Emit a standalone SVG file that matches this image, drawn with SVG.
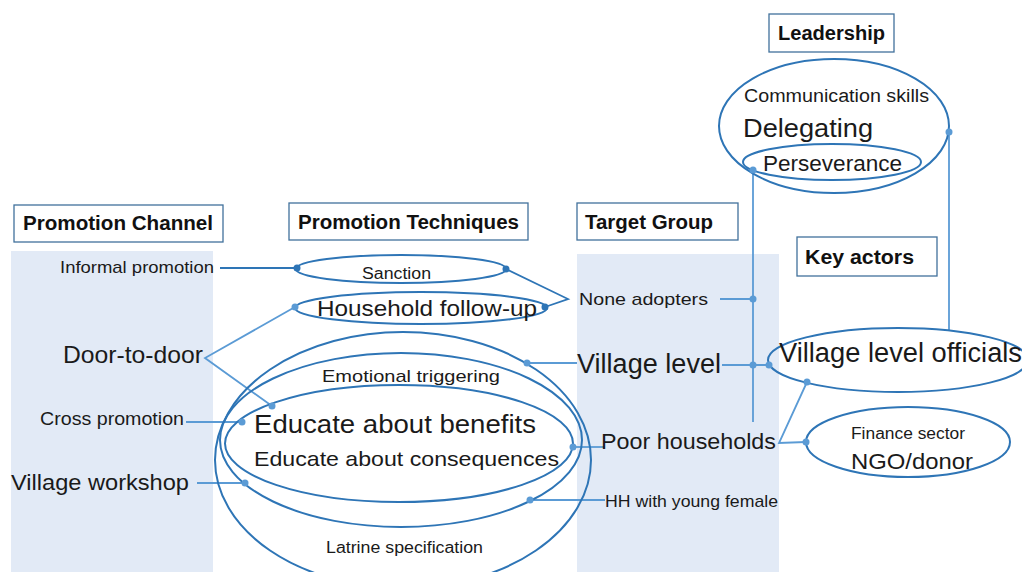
<svg xmlns="http://www.w3.org/2000/svg" width="1022" height="572" viewBox="0 0 1022 572">
<style>
text{font-family:"Liberation Sans",Arial,sans-serif;fill:#1a1a1a}
.h{font-weight:bold;font-size:20px;fill:#111}
.hb{fill:#fff;stroke:#41719c;stroke-width:1.3}
.panel{fill:#e2eaf6}
.el{fill:none;stroke:#2e75b6;stroke-width:2}
.c{fill:none;stroke:#5b9bd5;stroke-width:1.8}
.cd{fill:none;stroke:#2e75b6;stroke-width:1.8}
.d{fill:#5b9bd5}
.dd{fill:#2e75b6}
</style>
<rect width="1022" height="572" fill="#fff"/>
<g id="panels">
<rect class="panel" x="11" y="251" width="202" height="321"/>
<rect class="panel" x="577" y="254" width="202" height="318"/>
</g>
<g id="headers">
<g id="h-channel"><rect class="hb" x="14" y="205" width="209" height="37"/><text class="h" x="23" y="230" textLength="190" lengthAdjust="spacingAndGlyphs">Promotion Channel</text></g>
<g id="h-tech"><rect class="hb" x="289" y="203" width="239" height="37"/><text class="h" x="298" y="229" textLength="221" lengthAdjust="spacingAndGlyphs">Promotion Techniques</text></g>
<g id="h-target"><rect class="hb" x="577" y="203" width="161" height="37"/><text class="h" x="585" y="229" textLength="128" lengthAdjust="spacingAndGlyphs">Target Group</text></g>
<g id="h-leader"><rect class="hb" x="769" y="14" width="125" height="38"/><text class="h" x="778" y="40" textLength="107" lengthAdjust="spacingAndGlyphs">Leadership</text></g>
<g id="h-actors"><rect class="hb" x="797" y="237" width="140" height="39"/><text class="h" x="805" y="264" textLength="109" lengthAdjust="spacingAndGlyphs">Key actors</text></g>
</g>
<g id="connectors">
<line class="cd" x1="220" y1="268" x2="297" y2="268"/>
<polyline class="c" points="295,307 205,358 272,406"/>
<line class="c" x1="186" y1="422" x2="242" y2="422"/>
<line class="c" x1="197" y1="483" x2="245" y2="483"/>
<polyline class="cd" points="506,269 568,299 545,307"/>
<line class="c" x1="720" y1="299" x2="753" y2="299"/>
<line class="c" x1="527" y1="363" x2="577" y2="363"/>
<line class="c" x1="722" y1="365" x2="769" y2="365"/>
<line class="c" x1="573" y1="447" x2="605" y2="447"/>
<line class="c" x1="530" y1="500" x2="605" y2="500"/>
<line class="c" x1="753" y1="170" x2="753" y2="422"/>
<line class="c" x1="949" y1="132" x2="949" y2="330"/>
<polyline class="c" points="807,382 779,443 806,442"/>
</g>
<g id="leadership">
<ellipse class="el" cx="834" cy="126" rx="115" ry="67"/>
<text x="744" y="102" font-size="18" textLength="185" lengthAdjust="spacingAndGlyphs">Communication skills</text>
<text x="743" y="137" font-size="26" textLength="130" lengthAdjust="spacingAndGlyphs">Delegating</text>
</g>
<g id="perseverance">
<ellipse class="el" cx="832" cy="162" rx="89" ry="18"/>
<text x="763" y="171" font-size="22" textLength="139" lengthAdjust="spacingAndGlyphs">Perseverance</text>
</g>
<g id="channels">
<text x="60" y="273" font-size="17" textLength="154" lengthAdjust="spacingAndGlyphs">Informal promotion</text>
<text x="63" y="363" font-size="24" textLength="140" lengthAdjust="spacingAndGlyphs">Door-to-door</text>
<text x="40" y="425" font-size="18" textLength="144" lengthAdjust="spacingAndGlyphs">Cross promotion</text>
<text x="11" y="490" font-size="22" textLength="178" lengthAdjust="spacingAndGlyphs">Village workshop</text>
</g>
<g id="sanction">
<ellipse class="el" cx="401" cy="269" rx="105" ry="14"/>
<text x="362" y="279" font-size="16" textLength="69" lengthAdjust="spacingAndGlyphs">Sanction</text>
</g>
<g id="followup">
<ellipse class="el" cx="421" cy="308" rx="126" ry="16"/>
<text x="317" y="316" font-size="22" textLength="220" lengthAdjust="spacingAndGlyphs">Household follow-up</text>
</g>
<g id="latrine">
<ellipse class="el" cx="403" cy="460" rx="188" ry="128"/>
<text x="326" y="553" font-size="16" textLength="157" lengthAdjust="spacingAndGlyphs">Latrine specification</text>
</g>
<g id="emotional">
<ellipse class="el" cx="401" cy="440" rx="181" ry="87"/>
<text x="322" y="382" font-size="17" textLength="178" lengthAdjust="spacingAndGlyphs">Emotional triggering</text>
</g>
<g id="educate">
<ellipse class="el" cx="399" cy="443.5" rx="174" ry="58.5"/>
<text x="254" y="433" font-size="25" textLength="282" lengthAdjust="spacingAndGlyphs">Educate about benefits</text>
<text x="254" y="466" font-size="21" textLength="305" lengthAdjust="spacingAndGlyphs">Educate about consequences</text>
</g>
<g id="targets">
<text x="579" y="305" font-size="17" textLength="129" lengthAdjust="spacingAndGlyphs">None adopters</text>
<text x="577" y="373" font-size="27" textLength="144" lengthAdjust="spacingAndGlyphs">Village level</text>
<text x="601" y="449" font-size="22" textLength="175" lengthAdjust="spacingAndGlyphs">Poor households</text>
<text x="605" y="507" font-size="17" textLength="173" lengthAdjust="spacingAndGlyphs">HH with young female</text>
</g>
<g id="officials">
<ellipse class="el" cx="898" cy="360" rx="130" ry="32"/>
<text x="779" y="362" font-size="27" textLength="243" lengthAdjust="spacingAndGlyphs">Village level officials</text>
</g>
<g id="finance">
<ellipse class="el" cx="908" cy="442" rx="102" ry="35"/>
<text x="851" y="439" font-size="16" textLength="114" lengthAdjust="spacingAndGlyphs">Finance sector</text>
<text x="851" y="469" font-size="22" textLength="122" lengthAdjust="spacingAndGlyphs">NGO/donor</text>
</g>
<g id="dots">
<circle class="dd" cx="297" cy="268" r="3.5"/>
<circle class="dd" cx="506" cy="269" r="3.5"/>
<circle class="d" cx="295" cy="307" r="3.5"/>
<circle class="dd" cx="545" cy="307" r="3.5"/>
<circle class="d" cx="272" cy="406" r="3.5"/>
<circle class="d" cx="242" cy="422" r="3.5"/>
<circle class="d" cx="245" cy="483" r="3.5"/>
<circle class="d" cx="527" cy="363" r="3.5"/>
<circle class="d" cx="573" cy="447" r="3.5"/>
<circle class="d" cx="530" cy="500" r="3.5"/>
<circle class="d" cx="753" cy="170" r="3.5"/>
<circle class="d" cx="949" cy="132" r="3.5"/>
<circle class="d" cx="753" cy="299" r="3.5"/>
<circle class="d" cx="753" cy="365" r="3.5"/>
<circle class="d" cx="769" cy="365" r="3.5"/>
<circle class="d" cx="807" cy="382" r="3.5"/>
<circle class="d" cx="806" cy="442" r="3.5"/>
</g>
</svg>
